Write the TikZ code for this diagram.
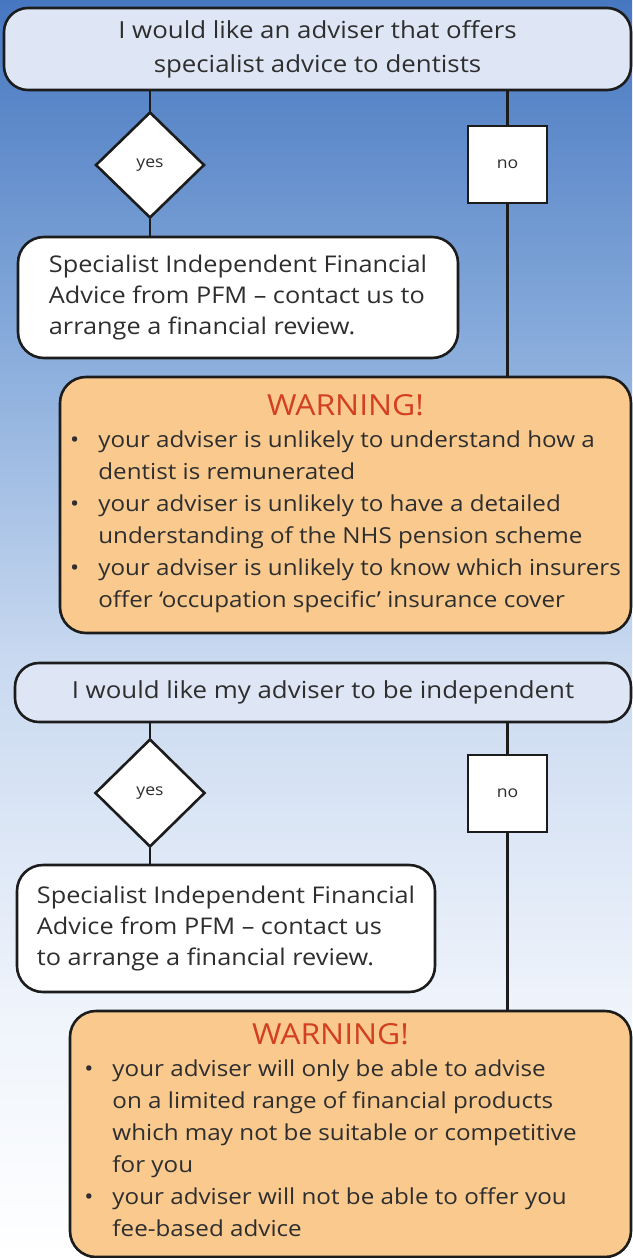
\documentclass[tikz,border=0pt]{standalone}
\usepackage{fontspec}
\setmainfont{Open Sans}[FakeStretch=1.1]
\usetikzlibrary{shapes.geometric, positioning}
\definecolor{bgtop}{HTML}{4677C0}
\definecolor{bgmid}{HTML}{8FB1DE}
\definecolor{bglow}{HTML}{C9D9F0}
\definecolor{bgend}{HTML}{EEF3FB}
\definecolor{askfill}{HTML}{DEE6F5}
\definecolor{warnfill}{HTML}{F9C98E}
\definecolor{warnred}{HTML}{D2401F}
\definecolor{ink}{HTML}{1C1C1C}
\definecolor{txt}{HTML}{2E2E2E}

\begin{document}
\begin{tikzpicture}[x=1pt, y=-1pt, line width=2.6pt]
	\tikzstyle{question}=[draw=ink, fill=askfill, rounded corners=24pt, inner sep=0pt, align=center, text=txt, font=\fontsize{23.5}{34}\selectfont]
	\tikzstyle{yesbox}=[draw=ink, fill=white, diamond, inner sep=0pt, minimum width=109pt, minimum height=106pt, text=txt, font=\fontsize{16}{20}\selectfont]
	\tikzstyle{nobox}=[draw=ink, fill=white, rectangle, inner sep=0pt, minimum width=79pt, minimum height=77pt, text=txt, font=\fontsize{16}{20}\selectfont]
	\tikzstyle{answer}=[draw=ink, fill=white, rounded corners=26pt, inner sep=0pt, align=left, text=txt, font=\fontsize{23}{31}\selectfont]
	\tikzstyle{warning}=[draw=ink, fill=warnfill, rounded corners=26pt, inner sep=0pt, text=txt, font=\fontsize{22}{32}\selectfont]
	
	\useasboundingbox (0,0) rectangle (632,1258);
	\shade[top color=bgtop, bottom color=bgmid] (0,0) rectangle (632,380);
	\shade[top color=bgmid, bottom color=bglow] (0,380) rectangle (632,660);
	\shade[top color=bglow, bottom color=bgend] (0,660) rectangle (632,1000);
	\shade[top color=bgend, bottom color=white] (0,1000) rectangle (632,1258);
	
	\node[question, minimum width=627pt, minimum height=82pt] (ask_1) at (317.5,49) {I would like an adviser that offers\\specialist advice to dentists};
	\node[yesbox]  (yes_1) at (150,165) {yes};
	\node[nobox]   (no_1)  at (507.5,164.5) {no};
	\node[answer, minimum width=440pt, minimum height=121pt] (pfm_1) at (238,297.5)
		{Specialist Independent Financial\\Advice from PFM -- contact us to\\arrange a financial review.};
	\node[warning, minimum width=571pt, minimum height=256pt] (warn_1) at (345.5,505) {%
		\begin{tabular}{@{}l@{\hspace{19pt}}l@{}}
			\multicolumn{2}{c}{\color{warnred}\fontsize{29}{32}\selectfont WARNING!}\\
			\textbullet & your adviser is unlikely to understand how a\\
			            & dentist is remunerated\\
			\textbullet & your adviser is unlikely to have a detailed\\
			            & understanding of the NHS pension scheme\\
			\textbullet & your adviser is unlikely to know which insurers\\
			            & offer `occupation specific' insurance cover
		\end{tabular}};
	
	\node[question, minimum width=616pt, minimum height=59pt] (ask_2) at (323,692.5) {I would like my adviser to be independent};
	\node[yesbox, minimum width=110pt, minimum height=108pt] (yes_2) at (150,793) {yes};
	\node[nobox]   (no_2)  at (507.5,793.5) {no};
	\node[answer, minimum width=418pt, minimum height=127pt] (pfm_2) at (226,928.5)
		{Specialist Independent Financial\\Advice from PFM -- contact us\\to arrange a financial review.};
	\node[warning, minimum width=561pt, minimum height=246pt] (warn_2) at (350.5,1134) {%
		\begin{tabular}{@{}l@{\hspace{19pt}}l@{}}
			\multicolumn{2}{c}{\color{warnred}\fontsize{29}{32}\selectfont WARNING!}\\
			\textbullet & your adviser will only be able to advise\\
			            & on a limited range of financial products\\
			            & which may not be suitable or competitive\\
			            & for you\\
			\textbullet & your adviser will not be able to offer you\\
			            & fee-based advice
		\end{tabular}\rule{40pt}{0pt}};
	
	\draw[ink] (ask_1.south -| yes_1.north) -- (yes_1.north);
	\draw[ink] (yes_1.south) -- (yes_1.south |- pfm_1.north);
	\draw[ink] (ask_1.south -| no_1.north) -- (no_1.north);
	\draw[ink] (no_1.south) -- (no_1.south |- warn_1.north);
	\draw[ink] (ask_2.south -| yes_2.north) -- (yes_2.north);
	\draw[ink] (yes_2.south) -- (yes_2.south |- pfm_2.north);
	\draw[ink] (ask_2.south -| no_2.north) -- (no_2.north);
	\draw[ink] (no_2.south) -- (no_2.south |- warn_2.north);
\end{tikzpicture}
\end{document}
